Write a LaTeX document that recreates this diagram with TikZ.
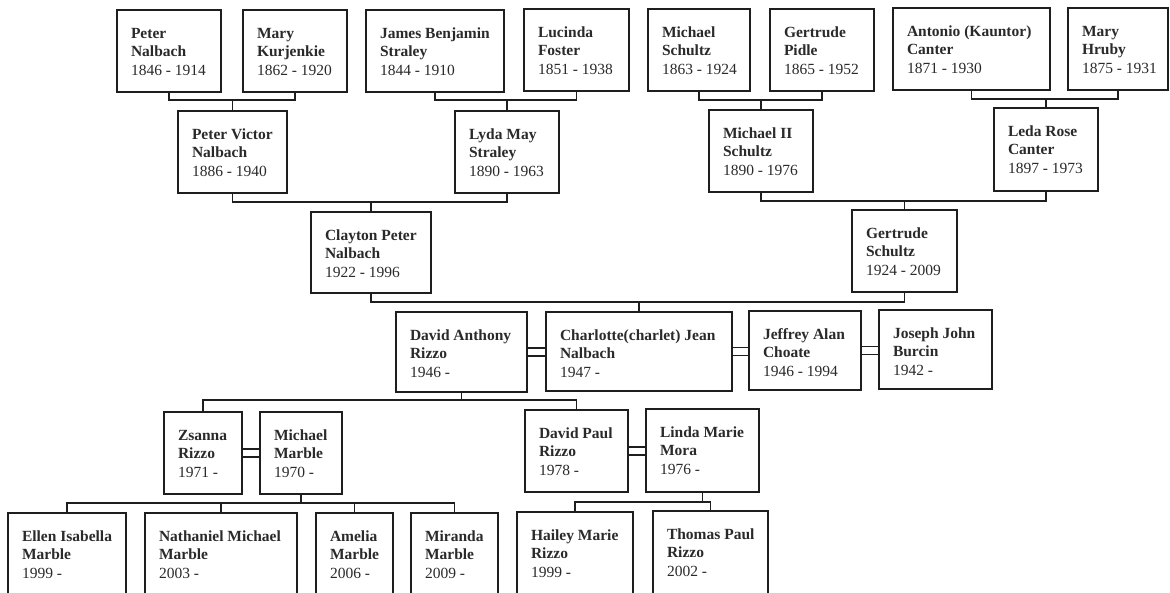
\documentclass[tikz,border=0pt]{standalone}
\usepackage{fontspec}
\setmainfont{Liberation Serif}
\definecolor{ink}{HTML}{1E1E1E}
\definecolor{txt}{HTML}{2A2A2A}
\tikzset{
  pbox/.style={draw=ink, line width=1.4pt, fill=white, rectangle, inner sep=0pt, outer sep=0pt},
  ptext/.style={inner sep=0pt, outer sep=0pt, align=left, text=txt, font=\fontsize{15.5}{18.5}\selectfont},
  link/.style={draw=ink, line width=1.3pt},
}
\newcommand\person[8]{%
  \node[pbox, minimum width=#4, minimum height=#5, anchor=north west] (#1) at (#2,#3) {};
  \node[ptext, anchor=north west] (#1t) at ([shift={(14pt,-15.5pt)}]#1.north west)
    {\strut\textbf{#6}\\\textbf{#7}\\#8};
}
\newcommand\wed[2]{%
  \draw[link] ([yshift=4pt]#1.east) -- ([yshift=4pt]#1.east -| #2.west);
  \draw[link] ([yshift=-4pt]#1.east) -- ([yshift=-4pt]#1.east -| #2.west);
}
\begin{document}
\begin{tikzpicture}[x=1pt,y=-1pt]
\useasboundingbox (0,0) rectangle (1170,592);
\clip (0,0) rectangle (1170,592);
\fill[white] (0,0) rectangle (1170,592);
% generation 1
\person{pn}{117}{10}{104}{82}{Peter}{Nalbach}{1846 - 1914}
\person{mk}{243}{10}{104}{82}{Mary}{Kurjenkie}{1862 - 1920}
\person{js}{366}{10}{138}{82}{James Benjamin}{Straley}{1844 - 1910}
\person{lf}{524}{9}{105}{82}{Lucinda}{Foster}{1851 - 1938}
\person{ms}{648}{9}{102}{82}{Michael}{Schultz}{1863 - 1924}
\person{gp}{770}{9}{104}{82}{Gertrude}{Pidle}{1865 - 1952}
\person{ac}{893}{8}{157}{82}{Antonio (Kauntor)}{Canter}{1871 - 1930}
\person{mh}{1068}{8}{100}{82}{Mary}{Hruby}{1875 - 1931}
% generation 2
\person{pv}{178}{111}{109}{82}{Peter Victor}{Nalbach}{1886 - 1940}
\person{lm}{455}{111}{104}{82}{Lyda May}{Straley}{1890 - 1963}
\person{m2}{709}{110}{104}{82}{Michael II}{Schultz}{1890 - 1976}
\person{lr}{994}{108}{104}{83}{Leda Rose}{Canter}{1897 - 1973}
% generation 3
\person{cp}{311}{212}{120}{81}{Clayton Peter}{Nalbach}{1922 - 1996}
\person{gs}{852}{210}{105}{82}{Gertrude}{Schultz}{1924 - 2009}
% generation 4
\person{dar}{396}{312}{131}{80}{David Anthony}{Rizzo}{1946 -}
\person{cjn}{546}{312}{186}{79}{Charlotte(charlet) Jean}{Nalbach}{1947 -}
\person{jac}{749}{311}{112}{79}{Jeffrey Alan}{Choate}{1946 - 1994}
\person{jjb}{879}{310}{113}{79}{Joseph John}{Burcin}{1942 -}
% generation 5
\person{zr}{164}{412}{78}{82}{Zsanna}{Rizzo}{1971 -}
\person{mm}{260}{412}{82}{82}{Michael}{Marble}{1970 -}
\person{dpr}{525}{410}{103}{82}{David Paul}{Rizzo}{1978 -}
\person{lmm}{646}{409}{113}{83}{Linda Marie}{Mora}{1976 -}
% generation 6
\person{eim}{8}{513}{118}{92}{Ellen Isabella}{Marble}{1999 -}
\person{nmm}{145}{513}{152}{92}{Nathaniel Michael}{Marble}{2003 -}
\person{am}{316}{513}{77}{92}{Amelia}{Marble}{2006 -}
\person{mim}{411}{513}{87}{92}{Miranda}{Marble}{2009 -}
\person{hmr}{517}{512}{116}{92}{Hailey Marie}{Rizzo}{1999 -}
\person{tpr}{653}{511}{115}{92}{Thomas Paul}{Rizzo}{2002 -}
% parent brackets, generation 1 -> 2
\draw[link] (pn.south) -- ++(0,8) coordinate (b1) -| (mk.south);
\draw[link] (pv.north) -- (pv.north |- b1);
\draw[link] (js.south) -- ++(0,8) coordinate (b2) -| (lf.south);
\draw[link] (lm.north) -- (lm.north |- b2);
\draw[link] (ms.south) -- ++(0,9) coordinate (b3) -| (gp.south);
\draw[link] (m2.north) -- (m2.north |- b3);
\draw[link] (ac.south) -- ++(0,9) coordinate (b4) -| (mh.south);
\draw[link] (lr.north) -- (lr.north |- b4);
% generation 2 -> 3
\draw[link] (pv.south) -- ++(0,9) coordinate (b5) -| (lm.south);
\draw[link] (cp.north) -- (cp.north |- b5);
\draw[link] (m2.south) -- ++(0,9) coordinate (b6) -| (lr.south);
\draw[link] (gs.north) -- (gs.north |- b6);
% generation 3 -> 4
\draw[link] (cp.south) -- ++(0,9) coordinate (b7) -| (gs.south);
\draw[link] (cjn.north) -- (cjn.north |- b7);
% marriages
\wed{dar}{cjn}
\wed{cjn}{jac}
\wed{jac}{jjb}
\wed{zr}{mm}
\wed{dpr}{lmm}
% generation 4 -> 5
\draw[link] (dar.south) -- ++(0,8) coordinate (b8);
\draw[link] (zr.north) -- (zr.north |- b8) -- (dpr.north |- b8) -- (dpr.north);
% generation 5 -> 6
\draw[link] (mm.south) -- ++(0,9) coordinate (b9);
\draw[link] (eim.north) -- (eim.north |- b9) -- (mim.north |- b9) -- (mim.north);
\draw[link] (nmm.north) -- (nmm.north |- b9);
\draw[link] (am.north) -- (am.north |- b9);
\draw[link] (lmm.south) -- ++(0,10) coordinate (b10);
\draw[link] (hmr.north) -- (hmr.north |- b10) -- (tpr.north |- b10) -- (tpr.north);
\end{tikzpicture}
\end{document}
